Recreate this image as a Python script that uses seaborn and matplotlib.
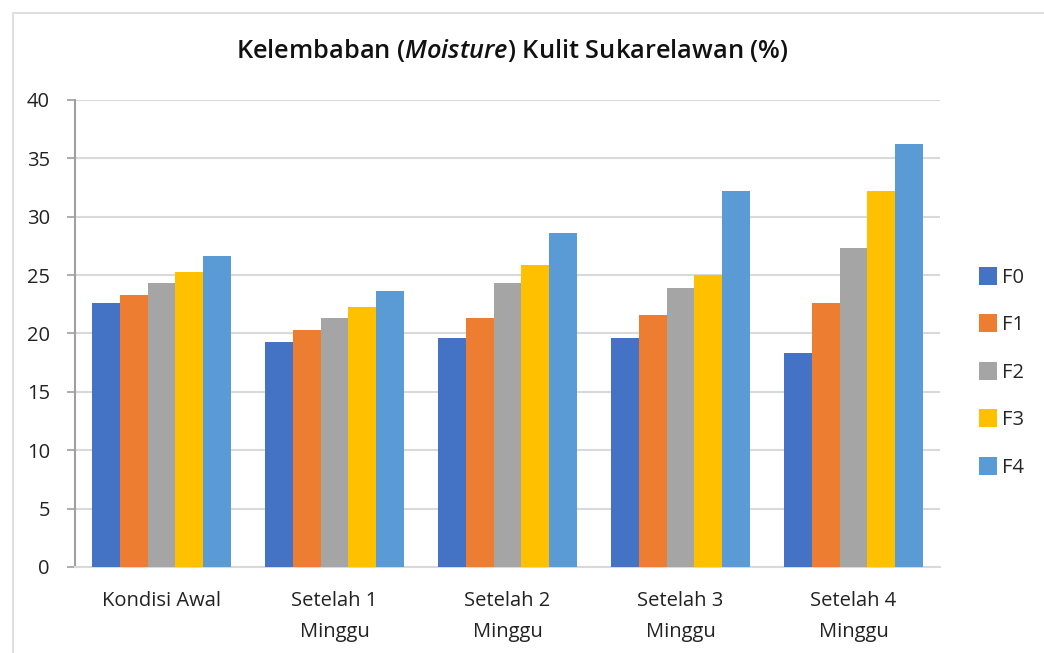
import pandas as pd
import seaborn as sns
import matplotlib.pyplot as plt
from matplotlib.patches import Rectangle, Patch

# data
groups = ['Kondisi Awal', 'Setelah 1\nMinggu', 'Setelah 2\nMinggu', 'Setelah 3\nMinggu', 'Setelah 4\nMinggu']
formulas = ['F0', 'F1', 'F2', 'F3', 'F4']
f0 = [22.6, 19.3, 19.6, 19.6, 18.3]
f1 = [23.3, 20.3, 21.3, 21.6, 22.6]
f2 = [24.3, 21.3, 24.3, 23.9, 27.3]
f3 = [25.3, 22.3, 25.9, 25.0, 32.2]
f4 = [26.6, 23.6, 28.6, 32.2, 36.2]
yticks = [0, 5, 10, 15, 20, 25, 30, 35, 40]
colors = ['#4472C4', '#ED7D31', '#A5A5A5', '#FFC000', '#5B9BD5']

rows = []
for name, vals in zip(formulas, [f0, f1, f2, f3, f4]):
    for g, v in zip(groups, vals):
        rows.append({'Waktu': g, 'Formula': name, 'Moisture': v})
df = pd.DataFrame(rows)

sns.set_style('white')
plt.rcParams['font.family'] = ['Open Sans', 'DejaVu Sans']
plt.rcParams['mathtext.fontset'] = 'custom'
plt.rcParams['mathtext.rm'] = 'Open Sans:semibold'
plt.rcParams['mathtext.it'] = 'Open Sans:italic:semibold'

fig = plt.figure(figsize=(10.44, 6.53), dpi=100)
ax = fig.add_axes([0.0718, 0.1317, 0.8286, 0.7152])

sns.barplot(data=df, x='Waktu', y='Moisture', hue='Formula', palette=colors,
            width=0.8, gap=0, saturation=1, linewidth=0, legend=False, ax=ax, zorder=3)

ax.set_ylim(0, 40)
ax.set_xlim(-0.5, len(groups) - 0.5)
ax.set_yticks(yticks)
ax.set_yticklabels([str(t) for t in yticks], fontsize=14.5, color='#222222')
ax.tick_params(axis='y', length=6, width=1.2, color='#a0a0a0', pad=12, direction='out', left=True)
ax.tick_params(axis='x', length=0, pad=17, labelsize=14.5, labelcolor='#222222')
for lbl in ax.get_xticklabels():
    lbl.set_linespacing(1.75)
ax.set_xlabel('')
ax.set_ylabel('')
ax.grid(axis='y', color='#d9d9d9', linewidth=1.5, zorder=0)
ax.set_axisbelow(True)
for s in ['top', 'right']:
    ax.spines[s].set_visible(False)
ax.spines['left'].set_color('#a0a0a0')
ax.spines['left'].set_linewidth(1.5)
ax.spines['bottom'].set_color('#d9d9d9')
ax.spines['bottom'].set_linewidth(1.5)

fig.text(0.491, 0.922, r'Kelembaban ($\it{Moisture}$) Kulit Sukarelawan (%)',
         ha='center', va='center', fontsize=18.3, fontweight='semibold', color='#111111')

handles = [Patch(facecolor=c, edgecolor='none') for c in colors]
fig.legend(handles, formulas, loc='center left', bbox_to_anchor=(0.92, 0.43),
           frameon=False, fontsize=14.5, labelspacing=1.32, handlelength=0.9,
           handleheight=1.0, handletextpad=0.25)

# light chart-area border
fig.patches.append(Rectangle((0.012, -0.01), 1.0, 0.99, transform=fig.transFigure,
                             fill=False, edgecolor='#d9d9d9', linewidth=1.2))

fig.savefig('out.png', dpi=100)
